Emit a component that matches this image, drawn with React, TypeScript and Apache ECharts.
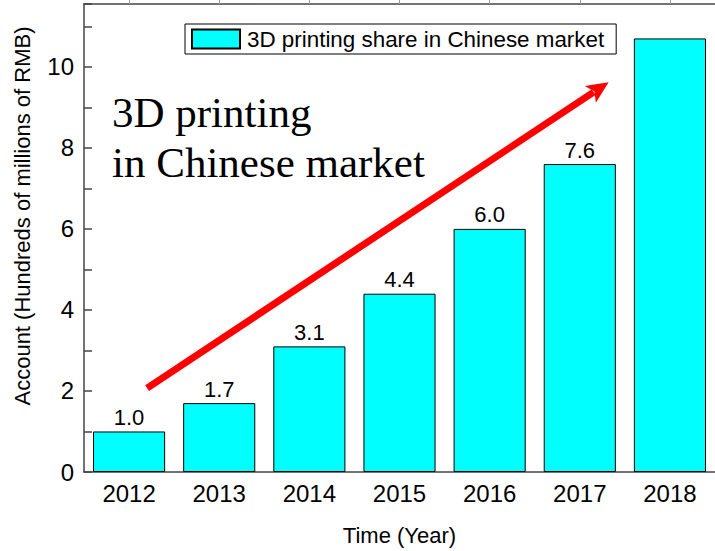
import React, { useEffect, useRef } from "react";
import * as echarts from "echarts";

const years = ["2012", "2013", "2014", "2015", "2016", "2017", "2018"];
const shares = [1.0, 1.7, 3.1, 4.4, 6.0, 7.6, 10.7];
const labelled = [true, true, true, true, true, true, false];
const seriesName = "3D printing share in Chinese market";
const annotationLines = ["3D printing", "in Chinese market"];
// arrow endpoints in data space: [category index offset, value]
const arrowTail = [0.2, 2.07];
const arrowHead = [5.32, 9.62];

const SANS = "'Liberation Sans', Arial, sans-serif";
const SERIF = "'Liberation Serif', 'Times New Roman', serif";

export default function App() {
  const ref = useRef<HTMLDivElement>(null);
  useEffect(() => {
    document.body.style.margin = "0";
    const chart = echarts.init(ref.current!, null, { renderer: "svg" });
    const axisLine = { show: true, lineStyle: { color: "#444", width: 1.5 } };
    chart.setOption({
      animation: false,
      backgroundColor: "#fff",
      grid: { left: 84, top: 4, right: -3, bottom: 75, containLabel: false },
      legend: {
        left: 185,
        top: 24,
        orient: "horizontal",
        itemWidth: 48,
        itemHeight: 19,
        padding: [4, 12, 4, 6],
        borderColor: "#000",
        borderWidth: 1,
        backgroundColor: "#fff",
        icon: "rect",
        data: [seriesName],
        textStyle: { fontFamily: SANS, fontSize: 22.4, lineHeight: 19, color: "#000", padding: [0, 0, 0, 2] },
      },
      xAxis: [
        {
          type: "category",
          data: years,
          position: "bottom",
          axisLine,
          axisTick: { show: true, inside: true, alignWithLabel: true, length: 8, lineStyle: { color: "#444", width: 1.5 } },
          axisLabel: { fontFamily: SANS, fontSize: 24, color: "#000", margin: 9 },
          name: "Time (Year)",
          nameLocation: "middle",
          nameGap: 52,
          nameTextStyle: { fontFamily: SANS, fontSize: 22, color: "#000" },
        },
        {
          type: "category",
          data: years,
          position: "top",
          axisLine,
          axisTick: { show: true, inside: false, alignWithLabel: true, length: 4, lineStyle: { color: "#999", width: 1 } },
          axisLabel: { show: false },
        },
      ],
      yAxis: [
        {
          type: "value",
          min: 0,
          max: 11.55,
          interval: 1,
          position: "left",
          axisLine,
          splitLine: { show: false },
          axisTick: { show: true, inside: true, length: 8, lineStyle: { color: "#444", width: 1.5 } },
          axisLabel: {
            fontFamily: SANS,
            fontSize: 24,
            color: "#000",
            margin: 10,
            formatter: (v: number) => (Math.abs(v % 2) < 1e-9 ? String(v) : ""),
          },
          name: "Account (Hundreds of millions of RMB)",
          nameLocation: "middle",
          nameGap: 51,
          nameTextStyle: { fontFamily: SANS, fontSize: 22, color: "#000", padding: [0, 0, 0, 44] },
        },
      ],
      series: [
        {
          name: seriesName,
          type: "bar",
          xAxisIndex: 0,
          yAxisIndex: 0,
          barCategoryGap: "20%",
          itemStyle: { color: "#00ffff", borderColor: "#000", borderWidth: 1 },
          data: shares.map((v, i) => ({
            value: v,
            label: { show: labelled[i] },
          })),
          label: {
            position: "top",
            distance: 3,
            fontFamily: SANS,
            fontSize: 22,
            color: "#000",
            formatter: (p: any) => Number(p.value).toFixed(1),
          },
        },
      ],
    });

    // annotation arrow positioned through the axis scales
    const c0 = chart.convertToPixel({ gridIndex: 0 }, [0, 0]) as number[];
    const c1 = chart.convertToPixel({ gridIndex: 0 }, [1, 0]) as number[];
    const band = c1[0] - c0[0];
    const toPx = (p: number[]) => {
      const base = chart.convertToPixel({ gridIndex: 0 }, [0, p[1]]) as number[];
      return [base[0] + p[0] * band, base[1]];
    };
    const t = toPx(arrowTail);
    const h = toPx(arrowHead);
    const dx = h[0] - t[0];
    const dy = h[1] - t[1];
    const len = Math.hypot(dx, dy);
    const ux = dx / len;
    const uy = dy / len;
    const headLen = 22;
    const headHalf = 10;
    const bx = h[0] - ux * headLen;
    const by = h[1] - uy * headLen;
    const nx = -uy;
    const ny = ux;
    chart.setOption({
      graphic: [
        {
          type: "line",
          shape: { x1: t[0], y1: t[1], x2: bx + ux * 4, y2: by + uy * 4 },
          style: { stroke: "#ff0000", lineWidth: 7 },
          z: 100,
        },
        {
          type: "polygon",
          shape: {
            points: [
              [h[0], h[1]],
              [bx + nx * headHalf, by + ny * headHalf],
              [bx + ux * 5, by + uy * 5],
              [bx - nx * headHalf, by - ny * headHalf],
            ],
          },
          style: { fill: "#ff0000" },
          z: 100,
        },
        {
          type: "text",
          left: 112,
          top: 87,
          style: {
            text: annotationLines.join("\n"),
            font: `43px ${SERIF}`,
            lineHeight: 50,
            fill: "#000",
          },
          z: 100,
        },
      ],
    });
    return () => chart.dispose();
  }, []);
  return <div ref={ref} style={{ width: 715, height: 551 }} />;
}
